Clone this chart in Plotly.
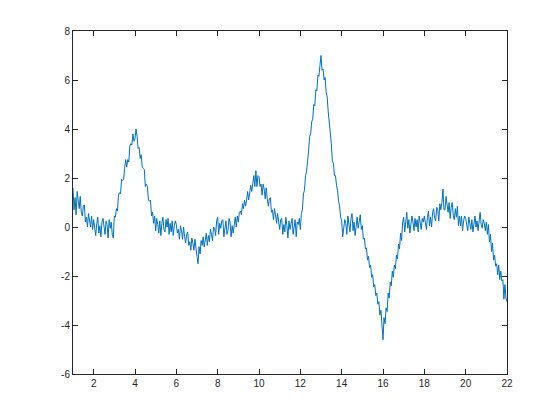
import numpy as np
import plotly.graph_objects as go

x_start = 1.0
x_end = 22.0

seg_01 = [1.6, 0.7, 1.2, 0.5, 1.45, 1.0, 0.75, 1.25, 0.6, 0.45, 0.85, 0.9, 0.2, 0.4, 0.0, 0.55, 0.3, 0.0, 0.45, -0.1]
seg_02 = [0.3, -0.1, -0.35, 0.15, 0.4, -0.25, 0.05, -0.4, 0.2, 0.35, -0.15, -0.3, 0.25, 0.1, -0.45, 0.3, -0.05, 0.2, -0.3, -0.45]
seg_03 = [0.45, 0.4, 0.75, 0.65, 1.3, 1.4, 1.35, 1.95, 1.9, 1.95, 2.4, 2.75, 2.45, 2.75, 2.65, 3.3, 3.4, 3.35, 3.8, 3.5]
seg_04 = [3.6, 4.0, 3.7, 3.2, 3.25, 2.8, 2.95, 2.45, 2.4, 2.35, 1.65, 1.75, 1.65, 1.1, 1.05, 1.1, 0.45, 0.6, 0.15, 0.45]
seg_05 = [-0.15, 0.35, 0.1, -0.25, 0.25, -0.35, 0.15, 0.4, -0.1, -0.2, 0.3, 0.0, 0.35, -0.3, 0.15, -0.2, 0.25, -0.35, 0.05, 0.25]
seg_06 = [0.1, -0.25, -0.1, -0.5, 0.05, -0.15, -0.5, 0.0, -0.4, -0.65, -0.3, -0.2, -0.75, -0.6, -0.95, -0.45, -0.65, -0.95, -0.5, -1.0]
seg_07 = [-1.2, -1.5, -0.8, -1.1, -0.55, -0.75, -0.4, -0.82, -0.55, -0.25, -0.75, -0.35, -0.6, -0.1, -0.3, -0.55, 0.0, -0.05, -0.35, 0.25]
seg_08 = [0.4, -0.3, 0.15, -0.05, 0.25, 0.3, -0.4, 0.1, 0.25, -0.3, -0.15, 0.35, 0.2, -0.4, 0.05, -0.25, 0.15, 0.4, 0.0, 0.45]
seg_09 = [0.2, 0.6, 0.65, 0.5, 0.95, 0.75, 1.1, 0.85, 1.1, 1.45, 1.1, 1.5, 1.7, 1.45, 1.75, 2.1, 1.65, 2.3, 1.65, 2.1]
seg_10 = [2.05, 1.65, 1.75, 1.3, 1.75, 1.55, 1.15, 1.6, 1.15, 0.85, 1.15, 1.2, 0.6, 0.7, 0.3, 0.75, 0.5, 0.15, 0.55, 0.05]
seg_11 = [-0.1, 0.3, 0.35, -0.3, 0.1, -0.2, 0.4, 0.05, -0.45, 0.25, -0.1, 0.15, 0.35, -0.3, -0.05, 0.3, -0.4, 0.2, 0.1, 0.35]
seg_12 = [-0.1, 0.55, 0.7, 1.35, 1.5, 2.1, 2.25, 2.9, 3.1, 3.7, 3.8, 4.3, 4.4, 5.0, 4.95, 5.6, 5.55, 6.2, 6.15, 6.6]
seg_13 = [7.0, 6.4, 6.45, 6.0, 6.1, 5.5, 5.3, 4.7, 4.3, 3.75, 3.4, 2.7, 2.6, 2.1, 2.1, 1.7, 1.5, 1.05, 0.85, 0.4]
seg_14 = [0.25, -0.4, -0.1, 0.3, 0.15, -0.3, 0.45, 0.0, -0.2, 0.35, 0.55, -0.15, 0.2, -0.35, 0.1, 0.4, -0.05, 0.3, 0.5, -0.1]
seg_15 = [0.05, -0.5, -0.45, -0.9, -0.85, -1.35, -1.2, -1.65, -1.55, -2.05, -1.95, -2.45, -2.35, -2.8, -2.7, -3.15, -3.05, -3.6, -3.4, -4.0]
seg_16 = [-4.6, -3.7, -3.95, -3.3, -3.45, -2.7, -2.9, -2.25, -2.4, -1.8, -2.05, -1.55, -1.7, -1.15, -1.3, -0.7, -0.9, -0.25, -0.55, 0.2]
seg_17 = [0.4, -0.2, 0.1, 0.6, -0.05, 0.3, -0.25, 0.05, 0.45, 0.2, -0.15, 0.35, 0.0, 0.3, -0.2, 0.45, 0.1, -0.1, 0.35, 0.2]
seg_18 = [0.45, 0.1, -0.1, 0.4, 0.65, 0.05, 0.4, 0.0, 0.6, 0.75, 0.35, 0.25, 0.8, 0.7, 0.25, 0.95, 0.7, 1.0, 1.55, 0.7]
seg_19 = [0.7, 1.25, 0.95, 0.6, 1.0, 0.35, 0.8, 1.0, 0.45, 0.3, 0.75, 0.4, 0.85, 0.05, 0.45, 0.05, 0.45, -0.15, 0.25, 0.45]
seg_20 = [0.35, 0.05, -0.15, 0.4, 0.2, -0.1, 0.3, -0.2, 0.1, 0.45, 0.0, 0.25, -0.15, 0.35, 0.6, 0.1, -0.05, 0.3, 0.15, -0.15]
seg_21 = [0.2, -0.3, 0.1, -0.6, -0.3, -1.0, -0.65, -1.35, -1.15, -1.6, -1.5, -1.95, -1.55, -2.15, -1.8, -2.2, -2.15, -2.95, -2.35, -2.9, -3.05]

y_vals = (seg_01 + seg_02 + seg_03 + seg_04 + seg_05 + seg_06 + seg_07 + seg_08 + seg_09 + seg_10 +
          seg_11 + seg_12 + seg_13 + seg_14 + seg_15 + seg_16 + seg_17 + seg_18 + seg_19 + seg_20 + seg_21)
x_vals = np.linspace(x_start, x_end, len(y_vals))

x_ticks = [2, 4, 6, 8, 10, 12, 14, 16, 18, 20, 22]
y_ticks = [-6, -4, -2, 0, 2, 4, 6, 8]

fig = go.Figure()
fig.add_trace(go.Scatter(x=x_vals, y=y_vals, mode="lines",
                         line=dict(color="#0072BD", width=1), showlegend=False))

axis_common = dict(showline=True, linecolor="#262626", linewidth=1, mirror="ticks",
                   ticks="inside", ticklen=5, tickcolor="#262626", showgrid=False,
                   zeroline=False, tickfont=dict(family="Liberation Sans, Arial, sans-serif",
                                                 size=10, color="#262626"))
fig.update_xaxes(range=[1, 22], tickvals=x_ticks, ticktext=[str(t) for t in x_ticks], **axis_common)
fig.update_yaxes(range=[-6, 8], tickvals=y_ticks, ticktext=[str(t) for t in y_ticks], **axis_common)

fig.update_layout(width=552, height=412, margin=dict(l=65, r=53, t=23, b=46, pad=0),
                  paper_bgcolor="white", plot_bgcolor="white")

fig.write_html("out.html")
